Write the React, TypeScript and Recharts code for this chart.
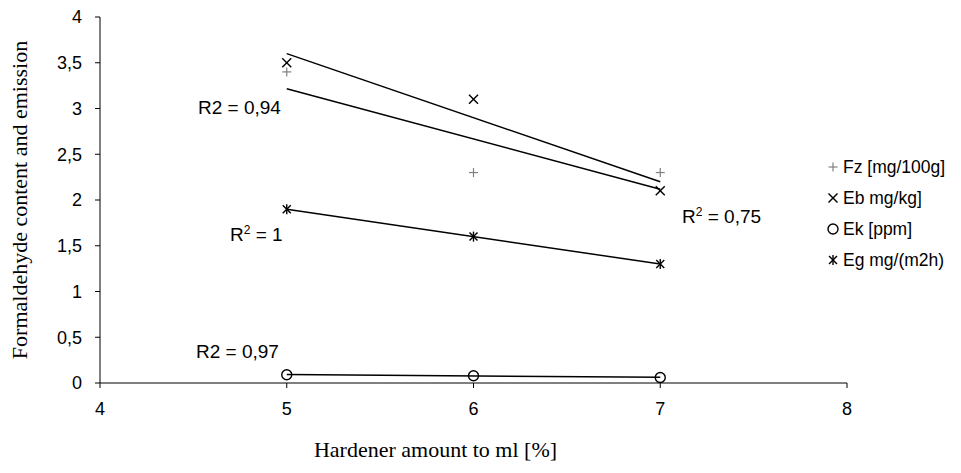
import React from 'react';
import { ScatterChart, Scatter, XAxis, YAxis, Label } from 'recharts';

const hardener = [5, 6, 7];
const fz = [3.4, 2.3, 2.3];
const eb = [3.5, 3.1, 2.1];
const ek = [0.09, 0.08, 0.06];
const eg = [1.9, 1.6, 1.3];
const xTicks = [4, 5, 6, 7, 8];
const yTicks = [0, 0.5, 1, 1.5, 2, 2.5, 3, 3.5, 4];

const toPoints = (ys: number[]) => hardener.map((x, i) => ({ x, y: ys[i] }));

// least squares trendline through the points, drawn from first to last x
function trend(ys: number[]) {
  const n = hardener.length;
  const mx = hardener.reduce((a, b) => a + b, 0) / n;
  const my = ys.reduce((a, b) => a + b, 0) / n;
  let sxy = 0;
  let sxx = 0;
  hardener.forEach((x, i) => {
    sxy += (x - mx) * (ys[i] - my);
    sxx += (x - mx) * (x - mx);
  });
  const b = sxy / sxx;
  const a = my - b * mx;
  const x0 = hardener[0];
  const x1 = hardener[n - 1];
  return [
    { x: x0, y: a + b * x0 },
    { x: x1, y: a + b * x1 },
  ];
}

const PlusMark = (p: any) => (
  <g stroke="#808080" strokeWidth={1.2}>
    <line x1={p.cx - 4.5} y1={p.cy} x2={p.cx + 4.5} y2={p.cy} />
    <line x1={p.cx} y1={p.cy - 4.5} x2={p.cx} y2={p.cy + 4.5} />
  </g>
);
const CrossMark = (p: any) => (
  <g stroke="#000" strokeWidth={1.4}>
    <line x1={p.cx - 4.5} y1={p.cy - 4.5} x2={p.cx + 4.5} y2={p.cy + 4.5} />
    <line x1={p.cx - 4.5} y1={p.cy + 4.5} x2={p.cx + 4.5} y2={p.cy - 4.5} />
  </g>
);
const CircleMark = (p: any) => (
  <circle cx={p.cx} cy={p.cy} r={5} fill="none" stroke="#000" strokeWidth={1.4} />
);
const StarMark = (p: any) => (
  <g stroke="#000" strokeWidth={1.4}>
    <line x1={p.cx - 4} y1={p.cy - 4} x2={p.cx + 4} y2={p.cy + 4} />
    <line x1={p.cx - 4} y1={p.cy + 4} x2={p.cx + 4} y2={p.cy - 4} />
    <line x1={p.cx} y1={p.cy - 5} x2={p.cx} y2={p.cy + 5} />
  </g>
);
const NoMark = () => <g />;

const legendItems = [
  { name: 'Fz [mg/100g]', Mark: PlusMark },
  { name: 'Eb mg/kg]', Mark: CrossMark },
  { name: 'Ek [ppm]', Mark: CircleMark },
  { name: 'Eg mg/(m2h)', Mark: StarMark },
];

const arial = 'Arial, "Liberation Sans", sans-serif';
const times = '"Times New Roman", "Liberation Serif", serif';
const annot: React.CSSProperties = { position: 'absolute', fontFamily: arial, fontSize: 19, color: '#000', whiteSpace: 'nowrap', lineHeight: '22px' };
const sup: React.CSSProperties = { fontSize: 12, verticalAlign: 7 };

export default function App() {
  const lineStyle = { stroke: '#000', strokeWidth: 1.5 };
  return (
    <div style={{ position: 'absolute', left: 0, top: 0, width: 961, height: 473, background: '#fff' }}>
      <ScatterChart width={961} height={473} margin={{ top: 17, right: 114, bottom: 10, left: 10 }}>
        <XAxis
          type="number"
          dataKey="x"
          domain={[4, 8]}
          ticks={xTicks}
          allowDataOverflow
          height={80}
          tickSize={5}
          tickMargin={14}
          axisLine={{ stroke: '#000' }}
          tickLine={{ stroke: '#000' }}
          tick={{ fill: '#000', fontSize: 18, fontFamily: arial }}
        >
          <Label
            value="Hardener amount to ml [%]"
            position="insideBottom"
            offset={6}
            dx={-38}
            style={{ fontFamily: times, fontSize: 22, fill: '#000' }}
          />
        </XAxis>
        <YAxis
          type="number"
          dataKey="y"
          domain={[0, 4]}
          ticks={yTicks}
          allowDataOverflow
          width={90}
          tickSize={5}
          tickMargin={13}
          axisLine={{ stroke: '#000' }}
          tickLine={{ stroke: '#000' }}
          tick={{ fill: '#000', fontSize: 18, fontFamily: arial }}
          tickFormatter={(v: number) => String(v).replace('.', ',')}
        >
          <Label
            value="Formaldehyde content and emission"
            angle={-90}
            position="insideLeft"
            offset={9}
            style={{ fontFamily: times, fontSize: 22, fill: '#000', textAnchor: 'middle' }}
          />
        </YAxis>

        <Scatter data={trend(eb)} line={lineStyle} shape={NoMark} isAnimationActive={false} />
        <Scatter data={trend(fz)} line={lineStyle} shape={NoMark} isAnimationActive={false} />
        <Scatter data={trend(eg)} line={lineStyle} shape={NoMark} isAnimationActive={false} />
        <Scatter data={trend(ek)} line={lineStyle} shape={NoMark} isAnimationActive={false} />

        <Scatter name="Fz [mg/100g]" data={toPoints(fz)} shape={PlusMark} isAnimationActive={false} />
        <Scatter name="Eb mg/kg]" data={toPoints(eb)} shape={CrossMark} isAnimationActive={false} />
        <Scatter name="Ek [ppm]" data={toPoints(ek)} shape={CircleMark} isAnimationActive={false} />
        <Scatter name="Eg mg/(m2h)" data={toPoints(eg)} shape={StarMark} isAnimationActive={false} />
      </ScatterChart>

      <div style={{ ...annot, left: 198, top: 97 }}>R2 = 0,94</div>
      <div style={{ ...annot, left: 230, top: 219 }}>
        R<sup style={sup}>2</sup> = 1
      </div>
      <div style={{ ...annot, left: 682, top: 201 }}>
        R<sup style={sup}>2</sup> = 0,75
      </div>
      <div style={{ ...annot, left: 196, top: 341 }}>R2 = 0,97</div>

      <svg style={{ position: 'absolute', left: 820, top: 150 }} width={141} height={130}>
        {legendItems.map((it, i) => (
          <g key={it.name}>
            <it.Mark cx={13} cy={17 + i * 31} />
            <text x={23} y={17 + i * 31} dy="0.35em" fontFamily={arial} fontSize={17.5} fill="#000">
              {it.name}
            </text>
          </g>
        ))}
      </svg>
    </div>
  );
}
